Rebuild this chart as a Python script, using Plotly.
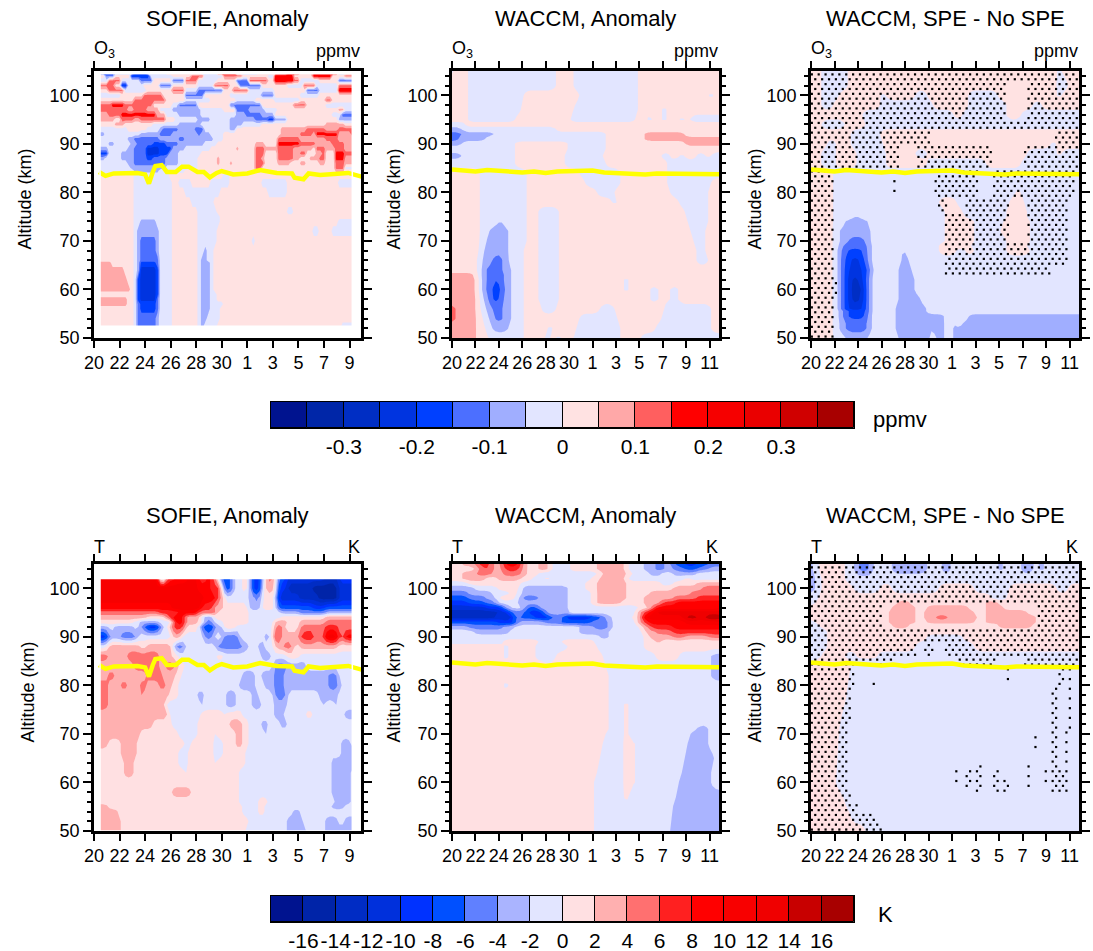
import numpy as np
import plotly.graph_objects as go

W, H = 1093, 951
FONT = "Liberation Sans"

TICK_LABELS_SOFIE = ["20", "22", "24", "26", "28", "30", "1", "3", "5", "7", "9"]
TICK_LABELS_WACCM = TICK_LABELS_SOFIE + ["11"]

O3_COLORS = ["#00138f", "#0026a8", "#002ec4", "#0034e0", "#0040ff", "#4c6fff", "#a0aeff", "#e2e5ff",
             "#ffe2e2", "#ffa8a8", "#ff5f5f", "#ff0000", "#f60000", "#ea0000", "#d00000", "#a80000"]
T_COLORS = ["#00138f", "#0024a8", "#002cc4", "#0030dc", "#0032ff", "#0050ff", "#6080ff", "#aab4ff", "#e2e5ff",
            "#ffe0e2", "#ffb0b0", "#ff7070", "#ff2020", "#ff0000", "#f80000", "#f00000", "#c80000", "#a80000"]
O3_BAR_TICKS = [-0.3, -0.2, -0.1, 0, 0.1, 0.2, 0.3]
T_BAR_TICKS = [-16, -14, -12, -10, -8, -6, -4, -2, 0, 2, 4, 6, 8, 10, 12, 14, 16]

# mesopause-like yellow line: day offset and altitude
SOFIE_LINE_DAY = [0.4, 0.9, 1.55, 2.6, 3.4, 4.0, 4.3, 4.6, 4.8, 5.3, 5.7, 6.4, 6.9, 7.4, 8.1, 8.6, 9.07, 9.6, 10, 10.9, 12, 13, 14.3, 15.5, 15.7, 16.4, 16.8, 17.7, 18.75, 19.9, 21]
SOFIE_LINE_ALT = [84.2, 83.4, 83.9, 83.9, 84.0, 83.7, 81.8, 84.2, 85.4, 85.6, 84.2, 84.2, 85.3, 85.3, 84.2, 84.2, 83.1, 84.0, 84.4, 83.7, 83.9, 84.6, 84.0, 83.9, 83.0, 82.7, 83.9, 83.6, 83.7, 84.0, 83.2]
WACCM_LINE_DAY = [0, 2, 3, 5, 6, 7, 8, 9, 11, 12, 13, 15, 16.5, 17.5, 21, 23]
WACCM_LINE_ALT = [84.7, 84.3, 84.6, 84.3, 84.1, 84.3, 84.0, 84.3, 84.3, 84.5, 84.1, 84.0, 83.7, 83.9, 83.9, 83.7]

# Each row: v0, d1, v1, d2, v2 ... value v_i up to day d_(i+1). O3 rows are in 0.01 ppmv, T rows in K.
O3_SOFIE_ALT = [52.4, 54, 56, 57, 58, 59, 60, 62, 64, 65.5, 66, 68, 70, 72, 74, 75, 76, 78, 80, 82, 83.5,
                84.5, 85, 86, 87, 88, 89, 90, 91, 92, 93, 94, 95, 96, 97, 98, 99, 100, 101, 102, 103, 104, 104.5]
O3_SOFIE_ROWS = [
    [2, 3.1, -2, 3.3, -7, 3.4, -12, 4.9, -7, 5.2, -2, 6, 2, 8.1, -2, 8.3, -7, 8.7, -2, 9.7, 2, 19.4, -2],
    [2, 3.1, -2, 3.3, -7, 3.4, -12, 4.9, -7, 5.2, -2, 6, 2, 8.1, -2, 8.3, -7, 8.9, -2, 9.8, 2],
    [2, 3.1, -2, 3.3, -7, 3.4, -12, 3.5, -17, 4.8, -12, 5, -7, 5.2, -2, 6, 2, 8.1, -2, 8.3, -7, 9, -2, 9.9, 2],
    [7, 2.7, 2, 3.1, -2, 3.3, -7, 3.4, -12, 3.5, -17, 4.9, -12, 5.1, -7, 5.2, -2, 6, 2, 8.1, -2, 8.3, -7, 9, -2, 10, 2],
    [7, 2.7, 2, 3.1, -2, 3.3, -7, 3.4, -17, 3.6, -22, 4.9, -12, 5.1, -7, 5.2, -2, 6.1, 2, 8.1, -2, 8.3, -7, 9, -2, 9.7, 2],
    [2, 3.1, -2, 3.3, -7, 3.4, -17, 3.6, -22, 4.9, -17, 5.1, -7, 5.2, -2, 6.1, 2, 8.1, -2, 8.3, -7, 9, -2, 9.5, 2],
    [7, 2.8, 2, 3.1, -2, 3.3, -7, 3.4, -17, 3.6, -22, 4.9, -17, 5.1, -7, 5.2, -2, 6.1, 2, 8.1, -2, 8.3, -7, 9, -2, 9.4, 2],
    [7, 2.7, 2, 3.1, -2, 3.3, -7, 3.4, -17, 3.6, -22, 4.9, -17, 5.1, -7, 5.2, -2, 6.1, 2, 8.1, -2, 8.3, -7, 9, -2, 9.4, 2],
    [7, 2.4, 2, 3.1, -2, 3.3, -7, 3.5, -17, 3.7, -22, 4.8, -17, 5, -7, 5.2, -2, 6.1, 2, 8.1, -2, 8.3, -7, 9, -2, 9.4, 2],
    [7, 1.4, 2, 3.1, -2, 3.3, -7, 3.5, -12, 3.7, -17, 4.8, -12, 5, -7, 5.2, -2, 6.1, 2, 8.1, -2, 8.4, -7, 9, -2, 9.4, 2],
    [2, 3.1, -2, 3.3, -7, 3.5, -12, 5, -7, 5.2, -2, 6.1, 2, 8.1, -2, 8.4, -7, 8.9, -2, 9.4, 2],
    [2, 3.1, -2, 3.4, -7, 3.6, -12, 4.9, -7, 5.2, -2, 6.1, 2, 8.1, -2, 8.5, -7, 8.8, -2, 9.4, 2],
    [2, 3.1, -2, 3.4, -7, 3.7, -12, 4.8, -7, 5.1, -2, 6.1, 2, 8.1, -2, 9.6, 2, 12.3, -2, 12.7, 2],
    [2, 3.1, -2, 3.4, -7, 5, -2, 6.2, 2, 8, -2, 9.7, 2, 17, -2, 17.5, 2, 18.7, -2, 20.4, 2],
    [2, 3.1, -2, 3.5, -7, 4.9, -2, 6.2, 2, 8, -2, 9.8, 2, 19, -2, 20.4, 2],
    [2, 3.1, -2, 6.2, 2, 8, -2, 9.8, 2],
    [2, 3.1, -2, 6.2, 2, 8, -2, 9.6, 2, 15, -2, 15.6, 2],
    [2, 3.1, -2, 6.2, 2, 7.7, -2, 9.4, 2],
    [2, 3.1, -2, 6.1, 2, 7, -2, 9.8, 2, 13.5, -2, 15, 2],
    [2, 3, -2, 6, 2, 6.7, -2, 7.6, 2, 9.2, -2, 10.5, 2, 13.2, -2, 15.2, 2, 19, -2, 20.4],
    [2, 3, -2, 5.8, 2, 10, -2, 10.6, 2],
    [-2, 3, -7, 5, -2, 7, 2, 12.5, 7, 13.2, 2, 18.75, 7, 19.5, 2],
    [-2, 2.9, -7, 5.7, -2, 8, 2, 10, 7, 10.2, 2, 12.5, 12, 13, 2, 18.8, 12, 19.5, -2],
    [-2, 2.6, -7, 3.1, -12, 5.7, -7, 6.5, -2, 8, 2, 9.5, 7, 9.8, 2, 10.5, 7, 10.8, 2, 12.5, 12, 13.3, 2, 14.3, 7, 15.3, 2, 16, 7, 16.5, 2, 17.5, 7, 18, 2, 18.75, 12, 19.5, 7],
    [-7, 0.9, -2, 2.2, -7, 3, -12, 4, -17, 4.5, -12, 5.7, -7, 6.5, -2, 8, -7, 8.2, 2, 9.5, 7, 9.8, 2, 12.5, 12, 13, 7, 13.3, 2, 14.3, 12, 15.6, 7, 16.2, 2, 16.8, 7, 17.5, 12, 18, 2, 18.75, 17, 19.5, 7],
    [-17, 1, -2, 2.2, -7, 3, -12, 4.2, -22, 5.2, -17, 5.8, -7, 6.6, -2, 8.4, 2, 12.5, 12, 13.3, 2, 14.3, 12, 15.5, 7, 16.1, 12, 16.6, 2, 17.4, 7, 17.8, 12, 18.2, 2, 18.8, 17, 19.5, 12],
    [-7, 1, -2, 2.6, -7, 3, -12, 4.2, -22, 5, -17, 6, -7, 7, -2, 9, 2, 11, 7, 11.3, 2, 12.5, 12, 13.3, 7, 14.3, 12, 15.5, 7, 17, 2, 17.4, 12, 18.2, 7, 18.8, 12, 19.5, 7],
    [-2, 1, -7, 1.5, -2, 2.9, -7, 3.3, -12, 4.5, -17, 5.6, -12, 6.5, -7, 8.5, -2, 9.5, 2, 12.5, 7, 13.3, 2, 14.3, 17, 16, 12, 17.4, 7, 18.5, 12, 19.5, 7],
    [-2, 2.5, -7, 3, -12, 5, -7, 6.5, -12, 7, -7, 9.3, -2, 10, 2, 14.3, 12, 16, 7, 18, 12, 19, 7],
    [-7, 0.8, -2, 3.5, -7, 5, -12, 6.2, -7, 8, -12, 8.4, -7, 9.2, -2, 10, 2, 14.5, 7, 16, 12, 17, 7, 17.4, 17, 19, 7, 20, 12],
    [-2, 2.5, 2, 4, -2, 5, -7, 5.4, -12, 6.5, -7, 7.8, -12, 8.5, -2, 10.5, -7, 11, 2, 14.7, 7, 16.5, 12, 18, 7, 19, 12],
    [2, 1.5, 7, 2.3, 2, 4.5, -2, 6.5, -7, 8.3, -2, 10.5, -7, 11.6, -2, 13, 2, 18, 7, 19.5, 2],
    [7, 1.5, 2, 2, 12, 3, 7, 3.5, 12, 5.5, 2, 6.3, -2, 8, -7, 9, -2, 10.7, -7, 12.6, -12, 13.5, -17, 14.2, -7, 15, 2, 19, -7, 20.4],
    [7, 1.2, 12, 2, 17, 4.8, 7, 5.7, -2, 6.5, -7, 8.4, -2, 11, -7, 11.8, -12, 13.2, -7, 14, 2, 18.5, -2, 19.3, -12],
    [12, 2.6, 7, 3.2, 12, 4.2, 7, 5.2, -2, 6.2, -7, 8.3, -2, 10, 2, 11, -12, 12.2, -7, 13.3, -2, 14.3, 2, 19, 7, 19.5, -2],
    [11, 1.3, 17, 2.3, 11, 4.5, 3, 6, -3, 6.5, -11, 8.1, 3, 10.5, -11, 13, 3, 15.5, 11, 16.5, 3, 18, -3, 20.4],
    [3, 3, 11, 5.6, 3, 7, -3, 9, 3, 11, -3, 12.5, 3, 14, -3, 16, 3, 18, 11, 18.5, 3],
    [-3, 2, 3, 3.8, 11, 5.4, 3, 7.2, -11, 8.6, 3, 10.5, -3, 13, -11, 14, 3, 16, -3, 17.5, 3],
    [3, 1, 11, 2.4, -3, 4.2, 3, 6.2, 11, 7, -3, 8, -11, 10, 3, 10.8, 11, 12, -3, 14, 3, 16.5, -11, 17.5, -3, 19, 19, 20.4],
    [11, 1.5, 3, 2.1, -19, 2.7, -3, 3.8, 3, 5, -11, 6.2, 3, 8, -3, 9.4, 11, 10.7, 3, 11.4, -11, 13, 3, 15, -3, 16.3, 11, 17.3, -3, 19, 11, 20.4],
    [-3, 1, 11, 2.2, -3, 3.5, -11, 4.6, 3, 6, -11, 7, 11, 8, -3, 9.5, 3, 11, -11, 12, 11, 13.5, 3, 14, 19, 15.5, 11, 16, -3, 17.5, 3, 19, -11, 20.4],
    [3, 0.8, -11, 1.5, 3, 2.9, -19, 4.4, -3, 6, 3, 7.5, 11, 8.5, -3, 10, 11, 11.5, 3, 13.5, -3, 14.2, 19, 15.5, 3, 17, 19, 18.5, 3, 19.5, 11],
    [-11, 1.6, -3, 3, -11, 4.2, -3, 5.5, 3, 7.5, -3, 9.5, 11, 11, -3, 12.8, 3, 15, 11, 16, 3, 17, 11, 19, -3],
]

O3_WACCM_ALT = [50, 52, 54, 56, 58, 60, 62, 63, 64, 66, 68, 70, 72, 74, 76, 78, 80, 82, 84, 86, 87.5, 89, 90, 91, 92, 93, 94, 95, 97, 100, 102, 103, 105]
O3_WACCM_ROWS = [
    [7, 2.1, 2, 3.1, -2, 6.2, 2, 7.8, -2, 8.3, 2, 9, -2, 9.4, 2, 10.5, -2, 14.3, 2, 16.2, -2],
    [7, 2.1, 2, 2.9, -2, 3.5, -7, 4.9, -2, 6.2, 2, 6.8, 7, 7.2, 2, 8.2, -2, 8.6, 2, 10.7, -2, 14.3, 2, 17.4, -2, 22.1, 2],
    [12, 0.5, 7, 2.1, 2, 2.6, -2, 3.1, -7, 3.7, -12, 4.3, -7, 5.1, -2, 6.2, 2, 6.8, 7, 7.2, 2, 11, -2, 14.2, 2, 14.9, 7, 15.1, 2, 17.9, -2, 22.1, 2],
    [12, 0.5, 7, 2.1, 2, 2.4, -2, 2.8, -7, 3.4, -12, 4.4, -7, 5.1, -2, 6.2, 2, 6.8, 7, 7.2, 2, 7.6, -2, 8.8, 2, 12.7, -2, 13.9, 2, 18.2, -2, 22.1, 2],
    [7, 2.1, 2, 2.4, -2, 2.6, -7, 3.1, -12, 3.5, -17, 4.2, -12, 4.4, -7, 5.1, -2, 6.1, 2, 7.4, -2, 9.1, 2, 17, -2, 17.3, 2, 17.7, -2, 18, 2, 18.4, -2, 18.7, 2, 19, -2, 19.3, 2],
    [7, 2.1, 2, 2.4, -2, 2.5, -7, 3, -12, 3.4, -17, 4.3, -12, 4.5, -7, 5.1, -2, 6.1, 2, 7.4, -2, 9.2, 2, 14.7, -2, 15.2, 2, 17, -2, 17.3, 2, 17.7, -2, 18, 2, 18.4, -2, 18.7, 2, 19, -2, 19.3, 2],
    [7, 2.1, 2, 2.4, -2, 2.5, -7, 3, -12, 3.6, -17, 4.2, -12, 4.5, -7, 5.1, -2, 6.1, 2, 7.4, -2, 9.2, 2, 14.7, -2, 15.2, 2],
    [7, 2, 2, 2.4, -2, 2.5, -7, 3, -12, 3.7, -17, 4.1, -12, 4.5, -7, 5.1, -2, 6.1, 2, 7.4, -2, 9.2, 2],
    [2, 2.4, -2, 2.5, -7, 3, -12, 3.8, -17, 4, -12, 4.5, -7, 5.1, -2, 6.1, 2, 7.4, -2, 9.2, 2],
    [2, 2.4, -2, 2.5, -7, 3.4, -12, 4.4, -7, 5, -2, 6.1, 2, 7.4, -2, 9.2, 2, 20.9, -2, 21.8, 2],
    [2, 2.4, -2, 2.6, -7, 3.8, -12, 4.2, -7, 5, -2, 6.2, 2, 7.4, -2, 9.2, 2, 20.8, -2, 21.7, 2],
    [2, 2.4, -2, 3, -7, 4.9, -2, 6.3, 2, 7.4, -2, 9.2, 2, 20.7, -2, 21.7, 2],
    [2, 2.4, -2, 3.2, -7, 4.8, -2, 6.3, 2, 7.4, -2, 9.2, 2, 20.4, -2, 21.7, 2],
    [2, 2.4, -2, 3.9, -7, 4.3, -2, 6.4, 2, 7.4, -2, 9.2, 2, 20.2, -2, 21.8, 2],
    [2, 2.4, -2, 6.4, 2, 7.5, -2, 9.1, 2, 19.8, -2, 21.9, 2],
    [2, 2.4, -2, 6.4, 2, 13.6, -2, 14.1, 2, 19.3, -2, 22, 2],
    [2, 2.4, -2, 6.4, 2, 12.3, -2, 14, 2, 18.7, -2, 22, 2],
    [2, 2.4, -2, 6.4, 2, 11.5, -2, 14.3, 2, 18.5, -2, 22.2, 2],
    [2, 2.4, -2, 6.4, 2, 11, -2, 14.3, 2, 18.3, -2],
    [-2, 5.5, 2, 9.7, -2, 13.2, 2, 18.3, -2],
    [-7, 0.8, -2, 3.7, 2, 3.9, -2, 5.5, 2, 9.7, -2, 13, 2, 18, -2, 18.6, 2, 19.5, -2, 20, 2, 21, -2, 21.6, 2, 22.2, -2],
    [-2, 5.5, 2, 9.8, -2, 13.2, 2],
    [-7, 1, -2, 5.5, 2, 9.8, -2, 13.2, 2, 20, 7],
    [-12, 0.6, -7, 3, -2, 13.2, 2, 16.4, 7],
    [-12, 0.8, -7, 3.7, -2, 13.2, 2, 16.5, 7, 20, 2],
    [-7, 0.8, -2, 9, 2],
    [-2, 1.2, 2],
    [2, 1.5, -2, 5.5, 2, 10.1, -2, 15.7, 2, 16.6, -2, 17.2, 2, 18, -2, 18.5, 2, 19.5, -2, 20, 2, 20.5, -2],
    [2, 1.5, -2, 3, 2, 3.2, -2, 5.8, 2, 10.5, -2, 16, 2, 16.6, -2, 17, 2, 18, -2, 18.4, 2],
    [2, 1.5, -2, 6.2, 2, 11, -2, 16, 2, 22, -2, 22.4, 2],
    [2, 1.5, -2, 8.9, 2, 10.5, -2, 16, 2],
    [2, 1.5, -2, 8.9, 2, 10.5, -2, 16, 2],
    [-2, 0.2, 2, 1.5, -2, 8.9, 2, 10.5, -2, 16, 2],
]

O3_DIFF_ALT = [50, 52, 53, 54.5, 55.5, 56, 58, 60, 62, 64, 66, 68, 69, 70, 72, 74, 75, 76, 78, 80, 84, 86, 88, 90, 92, 94, 96, 98, 100, 102, 105]
O3_DIFF_ROWS = [
    [2, 2, -2, 2.9, -7, 5, -2, 7.3, -7, 10.1, -2, 10.6, -7, 11.3, -2, 11.9, -7, 12.4, -2, 12.7, -7],
    [2, 2, -2, 2.5, -7, 3, -12, 4.9, -7, 5.1, -2, 7.1, -7, 10.2, -2, 10.5, -7, 11.3, -2, 11.9, -7, 12.4, -2, 12.7, -7],
    [2, 2, -2, 2.4, -7, 3, -12, 4.9, -7, 5.1, -2, 7.1, -7, 10.3, -2, 10.5, -7, 11.3, -2, 11.9, -7, 12.4, -2, 12.9, -7],
    [2, 2, -2, 2.4, -7, 2.6, -12, 3.2, -17, 4.7, -12, 5, -7, 5.1, -2, 7.1, -7, 10.3, -2, 10.5, -7, 11.3, -2, 13.5, -7],
    [2, 2, -2, 2.4, -7, 2.6, -12, 3.1, -17, 4.8, -12, 5, -7, 5.1, -2, 7.1, -7, 10, -2],
    [2, 2, -2, 2.4, -7, 2.5, -12, 3, -17, 3.2, -22, 4.4, -17, 4.9, -12, 5, -7, 5.1, -2, 7.1, -7, 10, -2],
    [2, 2, -2, 2.4, -7, 2.5, -12, 2.9, -17, 3.1, -22, 3.5, -27, 4.3, -22, 4.5, -17, 4.9, -12, 5, -7, 5.1, -2, 7.3, -7, 9.4, -2],
    [2, 2, -2, 2.4, -7, 2.5, -12, 2.9, -17, 3.1, -22, 3.5, -27, 3.8, -32, 4.1, -27, 4.3, -22, 4.5, -17, 4.9, -12, 5, -7, 5.1, -2, 7.5, -7, 9, -2],
    [2, 2, -2, 2.4, -7, 2.5, -12, 2.9, -17, 3.1, -22, 3.5, -27, 4.2, -22, 4.5, -17, 4.9, -12, 5, -7, 5.1, -2, 7.5, -7, 8.9, -2],
    [2, 2, -2, 2.3, -7, 2.5, -12, 3, -17, 3.2, -22, 4.4, -17, 4.9, -12, 5.1, -7, 5.2, -2, 7.5, -7, 8.6, -2],
    [2, 2, -2, 2.3, -7, 2.5, -12, 3, -17, 3.3, -22, 4.2, -17, 4.7, -12, 5, -7, 5.1, -2, 7.6, -7, 8.4, -2],
    [2, 2, -2, 2.3, -7, 2.5, -12, 3.2, -17, 4.5, -12, 5, -7, 5.1, -2, 7.6, -7, 8.1, -2, 10.8, 2, 12.5, -2, 13.2, 2, 14, -2, 16.6, 2, 18.6, -2],
    [2, 2, -2, 2.3, -7, 2.6, -12, 4.9, -7, 5.1, -2, 7.8, -7, 8, -2, 11, 2, 13.6, -2, 16.6, 2, 18.4, -2],
    [2, 2, -2, 2.4, -7, 3.1, -12, 4.7, -7, 5.1, -2, 11.3, 2, 14, -2, 16.6, 2, 18.6, -2],
    [2, 2, -2, 2.4, -7, 3, -7, 5.1, -2, 11.3, 2, 14, -2, 16.2, 2, 18.6, -2],
    [2, 2, -2, 2.9, -7, 4.8, -2, 11.3, 2, 13.8, -2, 16.5, 2, 18.6, -2],
    [2, 2, -2, 3.6, -7, 4.2, -2, 11.3, 2, 13.2, -2, 16.6, 2, 18.4, -2],
    [2, 2, -2, 11.3, 2, 13, -2, 16.7, 2, 18.4, -2],
    [2, 2, -2, 11, 2, 12.4, -2, 17, 2, 18.2, -2],
    [2, 2, -2, 17.5, 2, 18, -2],
    [2, 2, -2],
    [2, 1, -2, 2.2, 2, 3.9, -2, 6.5, 2, 10, -2, 15, 2, 17.8, -2],
    [2, 1, -2, 2.2, 2, 3.9, -2, 6.4, 2, 9, -2, 10, 2, 18.5, -2, 20.8, 2, 21.3, -2],
    [2, 1.5, -2, 2.2, 2, 3.5, -2, 6.2, 2, 20.5, -2, 21, 2],
    [2, 3.5, -2, 6, 2],
    [2, 1, -2, 3, 2, 4.7, -2],
    [2, 0.8, -2, 1, 2, 4.4, -2, 12.2, 2, 13, -2, 16.7, 2, 18, -2],
    [2, 0.8, -2, 2, 2, 6, -2, 10.5, 2, 13.5, -2, 16.6, 2, 19, -2, 19.6, 2],
    [2, 0.8, -2, 2.4, 2, 6, -2, 6.5, 2, 9, -2, 10, 2, 13.4, -2, 16, 2, 18.6, 2, 20.8, -2, 21.4, 2],
    [2, 0.8, -2, 3.2, 2, 20.8, -2, 22, 2],
    [2, 0.8, -2, 3.2, 2, 20.8, -2, 21.5, 2],
]
O3_SIG_ALT = [50, 58, 62.5, 65, 70, 76, 79, 85, 90, 93, 95, 103]
O3_SIG_ROWS = [
    [1, 2, 0],
    [1, 2.2, 0],
    [1, 2, 0, 11.3, 1, 17.2, 1, 20.5, 0],
    [1, 2, 0, 11.3, 1, 22, 0],
    [1, 2, 0, 11.2, 1, 17, 0, 18.4, 1, 22, 0],
    [1, 2, 0, 10.7, 1, 11.6, 0, 13.2, 1, 17, 0, 18.3, 1, 22, 0],
    [1, 2.1, 0, 6.9, 1, 7.2, 0, 10.6, 1, 14.4, 0, 15.5, 1, 22.4, 0],
    [1, 7.5, 0, 9, 1, 15.5, 0, 18, 1],
    [1, 10.2, 0, 20.8, 1],
    [1],
    [1, 16.6, 0, 18.3, 1],
    [1],
]

T_SOFIE_ALT = [50, 52, 54, 55, 56, 58, 60, 62, 64, 66, 68, 70, 72, 74, 76, 78, 80, 82, 84, 86, 88, 90, 92, 93, 94, 95, 96, 98, 100, 102]
T_SOFIE_ROWS = [
    [3, 2.1, 1, 11.9, -1, 15, -3, 16.5, -1, 18, -3, 20, -3],
    [3, 2, 1, 12, -1, 15, -3, 16.4, -1, 18, -3, 19, -1, 19.7, -3],
    [3, 1.9, 1, 11.5, -1, 12.9, 1, 13.4, -1, 15.5, -3, 16, -1],
    [3, 1.2, 1, 11.5, -1, 12, -3, 12.2, -1, 12.9, 1, 13.4, -1, 18.7, -3, 19.7, -1],
    [1, 11.4, -1, 12, -3, 12.2, -1, 12.9, 1, 13.5, -1, 18.8, -3, 20, -1],
    [1, 6, 3, 7.5, 1, 11.3, -1, 17, -1, 18.7, -3, 20, -1],
    [1, 4.9, 3, 5.2, 1, 11.3, -1, 17, -3, 17.4, -1, 18.6, -3, 20, -1],
    [1, 2.3, 3, 3.2, 1, 7, -1, 7.3, 1, 11.4, -1, 18.6, -3, 20, -1],
    [1, 2.3, 3, 3.2, 1, 6.7, -1, 7.3, 1, 9.3, -1, 9.7, 1, 11.8, -1, 18.5, -3, 19.8, -3],
    [1, 2.2, 3, 3.3, 1, 6.7, -1, 7.4, 1, 9.4, -1, 10, 1, 11.8, -1, 18.3, -3, 18.5, -1, 19.3, -3],
    [3, 1.1, 1, 2.1, 3, 3.4, 1, 7, -1, 7.6, 1, 9.4, -1, 10, 1, 11.2, 3, 11.5, 1, 12, -1, 19.3, -3, 20, -1],
    [3, 1.8, 3, 3.7, 1, 6.5, -1, 8, 1, 9.4, -1, 9.7, 1, 11, 3, 11.6, 1, 12.2, -1, 13.3, -3, 13.6, -1],
    [3, 4.5, 1, 6.2, -1, 8, 1, 9.3, -1, 9.6, 1, 10.6, 3, 11.6, 1, 12, -1, 13.2, -3, 13.6, -1, 14.6, -3, 15, -1],
    [3, 5.8, -1, 8.3, 1, 10, -1, 10.3, 1, 11.6, -1, 12, 1, 12.4, -1, 14, -3, 14.8, -1, 16.6, 1, 17.2, -1, 19.7, -3, 20.4],
    [5, 1.1, 3, 3.5, 5, 3.8, 3, 5.5, -1, 8.3, -3, 8.6, -1, 10.3, -3, 11, -1, 12.4, -3, 13, -1, 14, -3, 15, -1, 17.8, -3, 18.2, -1, 18.9, -3, 19.2, -1],
    [5, 1.1, 3, 3.5, 5, 3.8, 3, 5.9, 1, 6.5, -1, 8.2, -3, 8.6, -1, 10.3, -3, 11.1, -1, 12.4, -3, 12.8, -1, 14.1, -5, 15, -1, 17.7, -3, 19.2, -1],
    [5, 1.2, 3, 2.2, 5, 2.5, 3, 3.5, 5, 4, 3, 5.2, 5, 5.5, 3, 6.1, 1, 6.6, -1, 8.8, -3, 9, -1, 11.3, -3, 12.6, -1, 13.4, -3, 14, -5, 14.8, -3, 17.7, -3, 18.3, -5, 19, -3, 19.3, -1],
    [3, 1, 5, 1.5, 3, 4, 5, 5.4, 3, 6.3, 1, 6.8, -1, 11.5, -3, 12.6, -1, 13.2, -3, 14, -5, 14.8, -3, 17.7, -3, 18.4, -5, 19, -1],
    [3, 3, 5, 5, 3, 5.6, 5, 6.3, 3, 6.6, 1, 7.2, -1, 11, -1, 13.2, -1, 14, -5, 15, -3, 16.5, -1],
    [5, 1, 3, 2.5, 5, 5, 3, 6.2, 1, 6.5, -1, 9.5, 1, 10.2, -1, 13, -3, 13.8, -1, 15.2, 1, 16, -1],
    [-1, 1, 3, 3.5, 1, 4, 3, 5.4, 3, 6, -1, 6.4, -5, 7, -1, 9.5, -5, 11.5, -3, 12, -1, 12.8, -3, 13.4, -1, 14, 3, 14.8, 5, 15.6, 1, 16, 3, 19, 1],
    [-9, 1, -3, 2, -5, 3.4, -1, 6, 3, 6.8, -1, 8.5, -5, 9.3, -1, 10.2, -5, 11.3, -1, 13.4, -3, 13.8, 1, 14.1, 7, 14.6, 3, 16, 7, 16.8, 9, 17.2, 5, 18.2, 11, 19.2, 5, 19.7, 9],
    [-3, 1, -1, 1.5, -3, 3, -1, 3.6, -5, 4.2, -9, 5, -3, 5.5, 1, 6.2, 7, 7, 1, 8.4, -7, 9, -9, 9.4, -3, 10, 1, 11, -1, 14, 5, 14.8, 1, 16.2, 5, 18, 7, 19, 5],
    [1, 3, -1, 3.5, -3, 5, -1, 6, 5, 6.4, 9, 7, 3, 8, 1, 8.6, -5, 9.4, -1, 10, 1, 12, -1, 14, 3, 15, 1, 16.2, 3, 18, 5],
    [3, 4, 1, 5.5, 5, 6.2, 9, 7.2, 3, 8.3, -1, 8.6, -3, 9.4, 1, 10, 1, 12, -1, 14.5, 1, 16.2, 1, 18, 3],
    [5, 5, 7, 6.5, 9, 8, 5, 9.5, 1, 12, -1, 14.5, -3, 16, -5, 18, -3],
    [9, 6, 11, 8.3, 7, 9.4, 3, 10, 1, 12, -3, 13, 1, 14, -1, 14.4, -7, 17, -9, 18, -7],
    [11, 8.5, 9, 9.5, 5, 10, -1, 12, -3, 12.5, -5, 13, 1, 14, -1, 14.4, -11, 16, -13, 17.5, -15, 19, -11],
    [11, 8.2, 9, 9, 7, 9.8, 3, 10, -7, 10.8, -1, 11.5, 1, 12, -3, 12.4, -9, 13, -1, 13.3, 3, 14, 1, 14.3, -9, 15, -13, 17, -15, 19, -11],
    [11, 5.1, -3, 5.7, 7, 6.4, 9, 7.3, 11, 8.1, 7, 8.8, 9, 9.4, 3, 9.8, -7, 10.9, -1, 11.7, 1, 12, -3, 12.3, -9, 13.1, -3, 13.4, 3, 13.7, 5, 14, 1, 14.4, -7, 15, -11, 18, -13, 19, -9],
]

T_WACCM_ALT = [50, 55, 57, 60, 62, 65, 68, 70, 71, 72, 76, 78, 80, 82, 84, 86, 88, 89, 90, 91, 92, 93, 94, 95, 96, 97, 98, 99, 100, 101, 102, 103, 104, 105]
T_WACCM_ROWS = [
    [1, 12.2, -1, 18.7, -3],
    [1, 12.2, -1, 14.9, 1, 15.2, -1, 19, -3],
    [1, 12.2, -1, 14.7, 1, 15.2, -1, 19.2, -3],
    [1, 12.2, -1, 14.6, 1, 15.3, -1, 15.6, 1, 15.9, -1, 19.4, -3, 22.2, -1],
    [1, 12.3, -1, 14.6, 1, 15.3, -1, 15.6, 1, 15.9, -1, 19.7, -3, 22.2, -1],
    [1, 12.6, -1, 14.6, 1, 15.3, -1, 15.6, 1, 15.9, -1, 19.9, -3, 22.3, -1],
    [1, 13, -1, 14.6, 1, 15.3, -1, 15.6, 1, 15.9, -1, 20.2, -3, 22, -1],
    [1, 13.2, -1, 14.6, 1, 15.2, -1, 20.3, -3, 21.8, -1],
    [1, 13.3, -1, 14.6, 1, 15.2, -1, 21, -3, 21.8, -1],
    [1, 13.4, -1, 14.6, 1, 15.2, -1, 21.3, -3, 21.7, -1],
    [1, 13.5, -1, 14.6, 1, 15.2, -1, 21.3, -3, 21.7, -1],
    [1, 4.5, -1, 4.7, 1, 5.7, -1, 6, 1, 13.5, -1],
    [1, 4.4, -1, 4.8, 1, 13.5, -1],
    [1, 4.5, -1, 4.7, 1, 13.5, -1, 22.2, -3],
    [1, 4.5, -1, 4.7, 1, 8.2, -1, 8.5, 1, 13.2, -1, 22.2, -3],
    [1, 4.4, -1, 4.8, 1, 7.2, -1, 8.8, 1, 13, -1, 17.4, 1, 19.4, -1, 22.2, -3],
    [1, 4.4, -1, 5, 1, 7.2, -1, 9.8, 1, 12.4, -1, 16.5, 1, 20, 1],
    [-1, 4.5, 1, 7.5, -1, 9.5, 1, 12.2, -1, 16.4, 1, 17.4, 3, 18, 1],
    [-1, 12.6, -3, 13.4, -1, 16.4, 1, 17, 3, 19, 5, 20, 3, 22, 5],
    [-1, 2, -3, 5, -1, 11, -3, 13.5, -1, 16.4, 3, 17.4, 5, 19, 7, 22.8, 7],
    [-3, 1.5, -5, 4.5, -3, 5.5, -1, 11, -3, 12.2, -5, 13.4, -3, 13.6, -1, 16.2, 3, 17, 7, 19, 9, 22.8, 9],
    [-7, 4, -9, 5.3, -5, 5.6, -3, 8, -5, 9.4, -7, 12, -5, 13.4, -3, 13.6, -1, 16, 5, 16.6, 9, 20, 11, 22.8, 13],
    [-13, 3.6, -11, 4.6, -13, 5.2, -5, 6, -7, 7.2, -9, 8.5, -5, 9.7, -9, 12, -7, 13, -3, 13.6, -1, 15.5, 1, 16.1, 7, 16.5, 11, 20, 15, 21, 13, 22, 17, 22.5, 15],
    [-13, 4, -11, 5, -5, 6, -5, 6.5, -9, 8, -3, 9.7, -5, 10, -1, 12, -1, 16, 5, 16.6, 9, 17.4, 13, 22.8, 13],
    [-11, 3, -9, 4.5, -3, 5.2, -1, 6, -3, 6.5, -7, 7.5, -3, 9.8, -1, 16, 1, 16.8, 5, 17.4, 9, 22.8, 11],
    [-9, 1.5, -7, 3, -5, 4, -1, 5.7, -3, 9.8, -1, 12, 1, 12.5, 3, 14.5, 1, 16.4, 3, 18, 7, 19.2, 9, 22.8, 9],
    [-7, 1.5, -5, 3, -3, 4, 1, 5.5, -1, 6, -5, 7.5, -3, 9.8, -1, 12, 1, 12.5, 3, 14.8, 1, 16.4, 3, 19, 5, 21, 7],
    [-5, 1.5, -3, 3.5, -1, 4.8, 1, 5.6, -1, 6, -3, 9.8, -1, 12, 1, 12.5, 3, 14.8, 1, 17, 3, 20.5, 5],
    [-3, 2, -1, 3.8, 1, 5.8, -1, 6, -3, 9.8, -1, 11.5, 1, 12.5, 3, 15, 1, 19, 3, 21.5, 5],
    [-1, 1.5, 1, 3, 1, 6, -1, 11.5, 1, 12.5, 3, 15, 1, 18, -1, 19, 1, 21, 3],
    [1, 1, 3, 3, 1, 4, 3, 6, 1, 7, -1, 8, 1, 8.5, -1, 12, 1, 12.7, 3, 15, -1, 17, -1, 20, 1, 20.5, -1],
    [1, 1, 3, 2.2, 5, 3.3, 3, 4.5, 5, 6, 3, 6.5, 1, 7.5, -1, 9.5, -1, 12.4, 1, 13, 3, 15, 1, 15.5, -1, 17, -3, 18, -1, 19, -3, 20, -3, 21, -1],
    [1, 2.2, 5, 3, 7, 3.3, 3, 4.5, 7, 6, 3, 6.5, 1, 7.5, 3, 8.5, -1, 9.5, -3, 10, 1, 12.5, 3, 14.8, -1, 16.5, -3, 17.3, -5, 18.2, -3, 19, -5, 20, -7, 21, -5, 22, -3],
    [1, 1, 3, 2.2, 7, 3.3, 3, 4.5, 9, 6, 3, 6.5, 1, 7.5, 3, 8.5, -1, 9.5, -3, 10, 1, 12.5, 3, 14.8, -1, 16.5, -3, 17.3, -5, 18.2, -3, 19, -7, 20, -9, 21, -7, 22, -5],
]

T_DIFF_ALT = [50, 53, 56, 60, 70, 80, 84, 85, 86, 88, 90, 91, 92.5, 93, 94, 95, 96, 97, 98, 100, 102, 104, 105]
T_DIFF_ROWS = [
    [1, 4.6, -1],
    [1, 3.5, -1],
    [1, 2.8, -1],
    [1, 2.2, -1],
    [1, 2.3, -1],
    [1, 3.2, -1],
    [1, 3.3, -1],
    [-1, 0.4, 1, 3.3, -1],
    [-1, 1, 1, 3, -1, 4, 1, 5.7, -1],
    [-1, 1.5, 1, 9, -1, 14, 1],
    [-1, 1.5, 1, 10, -1, 13, 1],
    [-1, 1.5, 1],
    [-1, 0.7, 1, 7, 3, 8.5, 1, 16, 3, 19, 1],
    [-1, 0.3, 1, 6.7, 3, 8.9, 1, 9.9, 3, 14, 1, 15, 3, 19.2, 1],
    [1, 6.7, 3, 9, 1, 9.7, 3, 10.7, 5, 11.7, 3, 14.1, 1, 15, 3, 19.1, 1],
    [1, 6.7, 3, 9, 1, 9.7, 3, 14, 1, 15, 3, 18.5, 1],
    [1, 7, 3, 8.8, 1, 9.8, 3, 13.5, 1, 15, 3, 16.3, 1],
    [-1, 0.3, 1, 7.4, 3, 8.5, 1, 15, 3, 16, 1],
    [-1, 0.6, 1, 15.5, -1, 16.6, 1],
    [-3, 0.3, -1, 1, 1, 3.7, -1, 6, 1, 7, -1, 11, 1, 14, -1, 17, 1, 20.8, -1, 22, 1],
    [-3, 0.3, -1, 0.8, 1, 3, -1],
    [-3, 0.2, -1, 0.8, 3, 1.3, 1, 2.8, -1, 3.9, -5, 5.1, -1, 6.8, -3, 9.8, -1, 11.1, -3, 11.8, -1, 15.8, -3, 16.5, -1, 17.9, -3, 18.8, -1, 19.5, -3, 20, -1, 20.8, 1, 21, -1],
    [-3, 0.2, -1, 0.8, 3, 1.3, 1, 2.8, -1, 3.9, -5, 5.1, -1, 6.8, -3, 9.8, -1, 11.1, -3, 11.8, -1, 15.8, -3, 16.5, -1, 17.9, -3, 18.8, -1, 19.5, -3, 20, -1, 20.8, 1, 21, -1],
]
T_SIG_ALT = [50, 52, 54, 56, 58, 59, 61, 63, 65, 66, 68, 70, 72, 76, 79, 81, 84, 86, 89, 92, 97]
T_SIG_ROWS = [
    [1, 6.2, 0],
    [1, 5.4, 0],
    [1, 4, 0],
    [1, 3.3, 0],
    [1, 3, 0, 13.9, 1, 14.5, 0, 15.3, 1, 15.9, 0, 16.3, 1, 16.9, 0, 18.5, 1, 18.8, 0, 20.5, 1, 21.8, 0],
    [1, 3, 0, 12.2, 1, 12.6, 0, 13.1, 1, 13.7, 0, 14.1, 1, 14.7, 0, 15.3, 1, 15.9, 0, 16.3, 1, 16.9, 0, 18.5, 1, 18.8, 0, 19.8, 1, 20.2, 0, 20.5, 1, 21.8, 0],
    [1, 3, 0, 12.2, 1, 12.6, 0, 13.1, 1, 13.7, 0, 14.1, 1, 14.7, 0, 15.3, 1, 15.9, 0, 18.5, 1, 18.8, 0, 19.8, 1, 20.2, 0, 20.5, 1, 21.8, 0],
    [1, 3, 0, 14.2, 1, 14.6, 0, 18.5, 1, 18.8, 0, 20.5, 1, 21, 0, 21.5, 1, 21.8, 0],
    [1, 3, 0, 18, 1, 18.2, 0, 20.5, 1, 21, 0, 21.5, 1, 21.8, 0],
    [1, 3, 0, 18, 1, 18.2, 0, 19, 1, 19.2, 0, 20.5, 1, 21, 0, 21.5, 1, 21.8, 0],
    [1, 3, 0, 19, 1, 19.2, 0, 20.5, 1, 21, 0, 21.7, 1, 22, 0],
    [1, 3, 0, 20.5, 1, 21, 0, 21.7, 1, 22.2, 0],
    [1, 3.4, 0, 20.5, 1, 21, 0, 21.9, 1, 22.3, 0],
    [1, 3.5, 0, 20.5, 1, 21, 0, 22, 1, 22.3, 0],
    [1, 3.6, 0, 5.1, 1, 5.5, 0, 20.7, 1, 21.3, 0, 22, 1, 22.3, 0],
    [1, 3.6, 0, 16.7, 1, 17, 0, 21, 1, 21.6, 0, 22, 1, 22.3, 0],
    [1, 7, 0, 12.2, 1, 15.6, 0, 18.2, 1],
    [1, 9, 0, 9.6, 1, 10.6, 0, 11.4, 1],
    [1],
    [1, 6, 0, 19.2, 1],
    [1],
]

# pixel boxes of the panels and colour bars on the 1093x951 page
COLS = [(94, 361), (452, 719), (811, 1079)]
ROWS = [(71, 338), (564, 831)]
BARS = [(402, 428), (896, 922)]
BAR_X = (271, 854)
YTITLE_X = [[24, 393, 754], [27, 393, 754]]
XMAX_SOFIE, XMAX_WACCM = 20.9, 22.8
SIG_DX, SIG_DY = 0.2927, 1.0


def expand(rows, xs):
    out = []
    for row in rows:
        vals = np.zeros(len(xs))
        vals[:] = row[0]
        for k in range(1, len(row) - 1, 2):
            vals[xs >= row[k]] = row[k + 1]
        out.append(vals)
    return np.array(out)


def soften(z, kernel):
    k = np.array(kernel, float)
    k /= k.sum()
    pad = len(k) // 2
    return np.array([np.convolve(np.pad(r, pad, mode="edge"), k, mode="valid") for r in z])


def stipple(alts, rows, xmax):
    xs = np.arange(0.07, xmax, SIG_DX)
    mask = expand(rows, xs)
    alts = np.array(alts)
    px, py = [], []
    for j, y in enumerate(np.arange(50.3, 105.01, SIG_DY)):
        r = np.searchsorted(alts, y, side="right") - 1
        for i, x in enumerate(xs):
            if (i + j) % 2 == 0 and mask[r, i] > 0:
                px.append(float(x))
                py.append(float(y))
    return px, py


def step_scale(colors):
    n = len(colors)
    s = []
    for i, c in enumerate(colors):
        s += [[i / n, c], [(i + 1) / n, c]]
    return s


fig = go.Figure()
layout = {}
shapes = []


def dom(a, b, total, flip=False):
    return [1 - b / total, 1 - a / total] if flip else [a / total, b / total]


def add_panel(idx, col, row, alts, rows, scale, colors, step, xmax, ticktext, line_d, line_a, title, left, right, xr=None, sig=None, kernel=(1, 2, 3, 2, 1)):
    ax = "" if idx == 1 else str(idx)
    x0 = xr[0] if xr else 0
    x1 = xr[1] if xr else xmax + 0.2
    xs = np.arange(x0, x1 + 0.001, 0.25)
    z = soften(expand(rows, xs), kernel) * scale
    n = len(colors)
    half = step * n / 2
    fig.add_trace(go.Contour(
        x=xs, y=alts, z=z, xaxis="x" + ax, yaxis="y" + ax, colorscale=step_scale(colors),
        zauto=False, zmin=-half, zmax=half, autocontour=False, showscale=False, hoverinfo="skip",
        contours=dict(start=-half + step, end=half - step, size=step, coloring="fill", showlines=False),
        line=dict(width=0, smoothing=0),
    ))
    if xr:
        # the data stop short of the frame here: clean the anti-aliased rim of the filled bands
        shapes.append(dict(type="rect", xref="x" + ax, yref="y" + ax, x0=float(xs[0]), x1=float(xs[-1]), y0=alts[0], y1=alts[-1],
                           line=dict(color="white", width=1.5), fillcolor="rgba(0,0,0,0)", layer="above"))
    if sig:
        px, py = stipple(sig[0], sig[1], xmax)
        fig.add_trace(go.Scatter(x=px, y=py, mode="markers", xaxis="x" + ax, yaxis="y" + ax,
                                 marker=dict(size=2.2, color="black", symbol="square"), hoverinfo="skip", showlegend=False))
    fig.add_trace(go.Scatter(x=line_d, y=line_a, mode="lines", xaxis="x" + ax, yaxis="y" + ax,
                             line=dict(color="#ffff00", width=4.5), hoverinfo="skip", showlegend=False))
    common = dict(showline=True, linecolor="black", linewidth=2.5, mirror="ticks", ticks="outside",
                  tickcolor="black", tickwidth=2, showgrid=False, zeroline=False, automargin=False,
                  tickfont=dict(family=FONT, size=18, color="black"))
    layout["xaxis" + ax] = dict(common, domain=dom(*COLS[col], W), anchor="y" + ax, range=[0, xmax],
                                tickmode="array", tickvals=[2 * i for i in range(len(ticktext))], ticktext=ticktext,
                                ticklen=7, tickangle=0)
    layout["yaxis" + ax] = dict(common, domain=dom(*ROWS[row], H, flip=True), anchor="x" + ax, range=[50, 105],
                                tick0=50, dtick=10, ticklen=8,
                                minor=dict(tick0=50, dtick=2, ticks="outside", ticklen=4, tickwidth=1.5, tickcolor="black"))
    xc = sum(COLS[col]) / 2
    ytop = ROWS[row][0]
    title_y = ytop - (52 if row == 0 else 49)
    label_y = ytop - (8 if row == 0 else 5)
    anns.append(dict(text="Altitude (km)", x=YTITLE_X[row][col] / W, y=1 - (sum(ROWS[row]) / 2 - 5) / H, xref="paper", yref="paper",
                     showarrow=False, textangle=-90, xanchor="center", yanchor="middle", font=dict(family=FONT, size=18, color="black")))
    anns.append(dict(text=title, x=xc / W, y=1 - title_y / H, xref="paper", yref="paper", showarrow=False,
                     xanchor="center", yanchor="middle", font=dict(family=FONT, size=22, color="black")))
    anns.append(dict(text=left, x=(COLS[col][0] - 2) / W, y=1 - label_y / H, xref="paper", yref="paper", showarrow=False,
                     xanchor="left", yanchor="bottom", font=dict(family=FONT, size=18, color="black")))
    anns.append(dict(text=right, x=(COLS[col][1] + 1) / W, y=1 - label_y / H, xref="paper", yref="paper", showarrow=False,
                     xanchor="right", yanchor="bottom", font=dict(family=FONT, size=18, color="black")))


anns = []
O3L = "O<sub>3</sub>"
add_panel(1, 0, 0, O3_SOFIE_ALT, O3_SOFIE_ROWS, 0.01, O3_COLORS, 0.05, XMAX_SOFIE, TICK_LABELS_SOFIE, SOFIE_LINE_DAY, SOFIE_LINE_ALT, "SOFIE, Anomaly", O3L, "ppmv", xr=(0.47, 20.4), kernel=(1,))
add_panel(2, 1, 0, O3_WACCM_ALT, O3_WACCM_ROWS, 0.01, O3_COLORS, 0.05, XMAX_WACCM, TICK_LABELS_WACCM, WACCM_LINE_DAY, WACCM_LINE_ALT, "WACCM, Anomaly", O3L, "ppmv")
add_panel(3, 2, 0, O3_DIFF_ALT, O3_DIFF_ROWS, 0.01, O3_COLORS, 0.05, XMAX_WACCM, TICK_LABELS_WACCM, WACCM_LINE_DAY, WACCM_LINE_ALT, "WACCM, SPE - No SPE", O3L, "ppmv", sig=(O3_SIG_ALT, O3_SIG_ROWS))
add_panel(4, 0, 1, T_SOFIE_ALT, T_SOFIE_ROWS, 1, T_COLORS, 2, XMAX_SOFIE, TICK_LABELS_SOFIE, SOFIE_LINE_DAY, SOFIE_LINE_ALT, "SOFIE, Anomaly", "T", "K", xr=(0.47, 20.4), kernel=(1, 2, 1))
add_panel(5, 1, 1, T_WACCM_ALT, T_WACCM_ROWS, 1, T_COLORS, 2, XMAX_WACCM, TICK_LABELS_WACCM, WACCM_LINE_DAY, WACCM_LINE_ALT, "WACCM, Anomaly", "T", "K")
add_panel(6, 2, 1, T_DIFF_ALT, T_DIFF_ROWS, 1, T_COLORS, 2, XMAX_WACCM, TICK_LABELS_WACCM, WACCM_LINE_DAY, WACCM_LINE_ALT, "WACCM, SPE - No SPE", "T", "K", sig=(T_SIG_ALT, T_SIG_ROWS))


def add_bar(idx, ybox, colors, step, ticks, label, label_x):
    ax = str(idx)
    n = len(colors)
    half = step * n / 2
    centers = [-half + step * (i + 0.5) for i in range(n)]
    fig.add_trace(go.Bar(x=centers, y=[1] * n, width=step, xaxis="x" + ax, yaxis="y" + ax,
                         marker=dict(color=colors, line=dict(color="black", width=1)), hoverinfo="skip", showlegend=False))
    layout["xaxis" + ax] = dict(domain=dom(*BAR_X, W), anchor="y" + ax, range=[-half, half], tickmode="array",
                                tickvals=ticks, ticktext=[str(t) for t in ticks], ticks="", showgrid=False, zeroline=False,
                                showline=True, linecolor="black", linewidth=1, mirror=True, tickangle=0, automargin=False,
                                tickfont=dict(family=FONT, size=21, color="black"))
    layout["yaxis" + ax] = dict(domain=dom(*ybox, H, flip=True), anchor="x" + ax, range=[0, 1], showticklabels=False, automargin=False,
                                ticks="", showgrid=False, zeroline=False, showline=True, linecolor="black", linewidth=1, mirror=True)
    anns.append(dict(text=label, x=label_x / W, y=1 - (sum(ybox) / 2 + 5) / H, xref="paper", yref="paper", showarrow=False,
                     xanchor="center", yanchor="middle", font=dict(family=FONT, size=22, color="black")))


add_bar(7, BARS[0], O3_COLORS, 0.05, O3_BAR_TICKS, "ppmv", 900)
add_bar(8, BARS[1], T_COLORS, 2, T_BAR_TICKS, "K", 885)

fig.update_layout(width=W, height=H, margin=dict(l=0, r=0, t=0, b=0), paper_bgcolor="white", plot_bgcolor="white",
                  showlegend=False, bargap=0, annotations=anns, shapes=shapes, **layout)
fig.write_html("out.html", config=dict(displayModeBar=False),
               post_script="var gd=document.getElementById('{plot_id}');document.body.style.margin='0';"
                           "document.documentElement.style.overflow='hidden';"
                           "gd.style.width='1093px';gd.style.height='951px';"
                           "Plotly.relayout(gd,{autosize:false,width:1093,height:951});")
